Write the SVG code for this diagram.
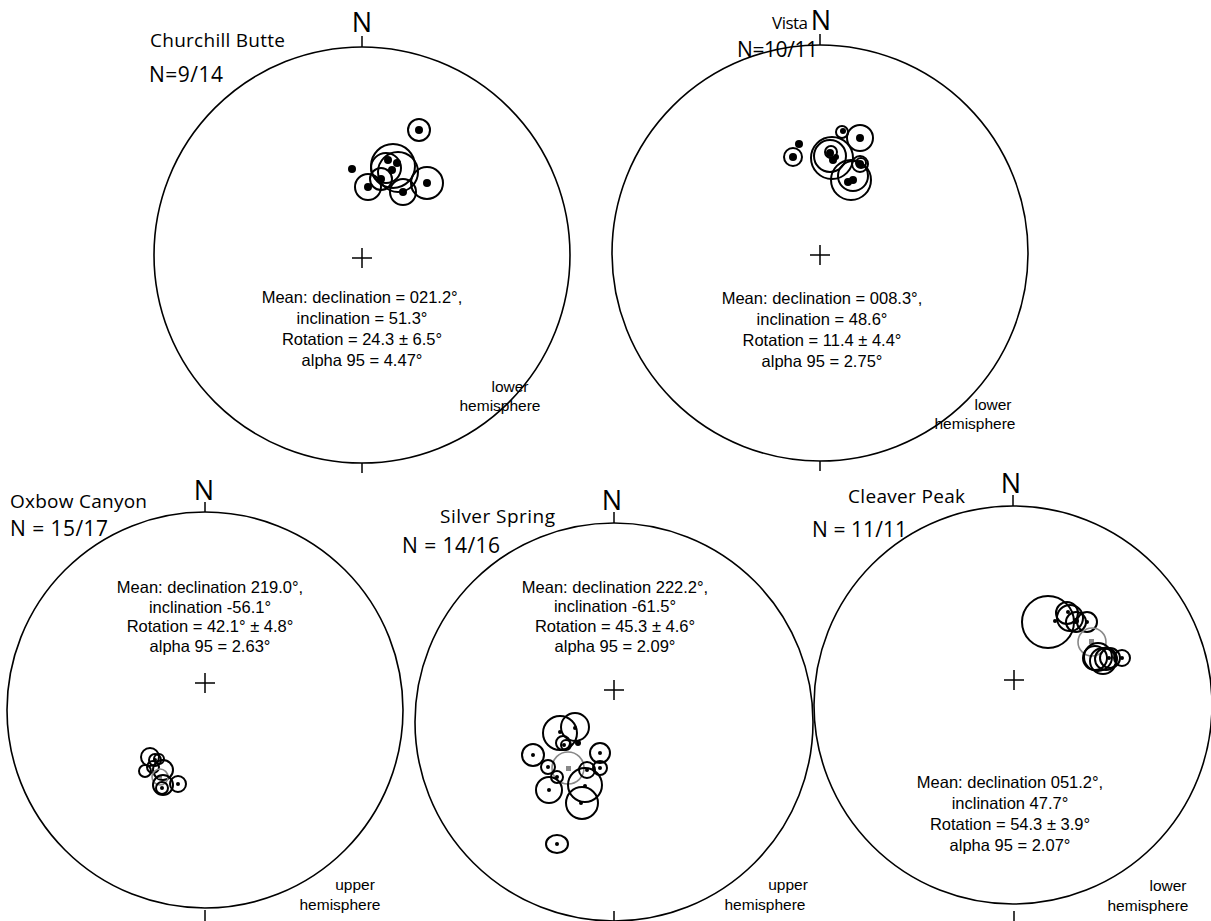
<svg xmlns="http://www.w3.org/2000/svg" width="1211" height="921" viewBox="0 0 1211 921">
<style>
.net{fill:none;stroke:#000;stroke-width:1.6}
.tick{stroke:#000;stroke-width:1.5}
.cross{stroke:#000;stroke-width:1.5}
.c{fill:none;stroke:#000;stroke-width:2}
.g{fill:none;stroke:#888;stroke-width:1.6}
.d{fill:#000}
.sq{fill:#888}
.title{font-family:"Open Sans","Noto Sans",sans-serif;font-size:19px;fill:#000}
.nn{font-family:"Open Sans","Noto Sans",sans-serif;font-size:21px;fill:#000}
.north{font-family:"Open Sans","Noto Sans",sans-serif;font-size:27px;fill:#000;text-anchor:middle}
.stat{font-family:"Liberation Sans",Arial,sans-serif;font-size:16.5px;fill:#000;text-anchor:middle}
.hemi{font-family:"Liberation Sans",Arial,sans-serif;font-size:15.5px;fill:#000;text-anchor:middle}
</style>
<rect width="1211" height="921" fill="#fff"/>

<g id="churchill-butte">
<circle class="net" cx="362" cy="255" r="208"/>
<line class="tick" x1="362" y1="36" x2="362" y2="47"/>
<line class="tick" x1="362" y1="463" x2="362" y2="473"/>
<path class="cross" d="M352 258H372M362 248V268"/>
<text class="north" x="362" y="32">N</text>
<text class="title" x="150" y="47" textLength="135">Churchill Butte</text>
<text class="nn" x="149" y="82" textLength="74">N=9/14</text>
<circle class="c" cx="419" cy="130" r="11"/><circle class="d" cx="419" cy="130" r="4"/>
<circle class="d" cx="352" cy="169" r="4"/>
<circle class="c" cx="393" cy="166" r="22"/>
<circle class="c" cx="398" cy="172" r="20"/>
<circle class="c" cx="386" cy="168" r="15"/>
<circle class="c" cx="381" cy="179" r="11"/>
<circle class="d" cx="388" cy="160" r="4"/><circle class="d" cx="397" cy="163" r="4"/><circle class="d" cx="392" cy="170" r="4"/><circle class="d" cx="381" cy="179" r="4"/>
<circle class="c" cx="368" cy="187" r="13"/><circle class="d" cx="368" cy="187" r="4"/>
<circle class="c" cx="403" cy="192" r="13"/><circle class="d" cx="403" cy="192" r="4"/>
<circle class="c" cx="427" cy="183" r="16"/><circle class="d" cx="427" cy="183" r="4"/>
<text class="stat" x="362" y="303">Mean: declination = 021.2°,</text>
<text class="stat" x="362" y="324">inclination = 51.3°</text>
<text class="stat" x="362" y="345">Rotation = 24.3 ± 6.5°</text>
<text class="stat" x="362" y="366">alpha 95 = 4.47°</text>
<text class="hemi" x="510" y="392">lower</text>
<text class="hemi" x="500" y="411">hemisphere</text>
</g>

<g id="vista">
<circle class="net" cx="820" cy="253" r="208"/>
<line class="tick" x1="820" y1="34" x2="820" y2="45"/>
<line class="tick" x1="820" y1="461" x2="820" y2="471"/>
<path class="cross" d="M810 255H830M820 245V265"/>
<text class="north" x="821" y="30">N</text>
<text class="title" x="772" y="29" style="font-size:17px" textLength="36">Vista</text>
<text class="nn" x="737" y="57" textLength="81">N=10/11</text>
<circle class="c" cx="842" cy="132" r="6"/><circle class="d" cx="843" cy="131" r="3"/>
<circle class="c" cx="860" cy="138" r="13"/><circle class="d" cx="860" cy="138" r="4"/>
<circle class="d" cx="799" cy="144" r="4"/>
<circle class="c" cx="793" cy="157" r="9"/><circle class="d" cx="793" cy="157" r="4"/>
<circle class="c" cx="832" cy="158" r="21"/>
<circle class="c" cx="830" cy="156" r="16"/>
<circle class="c" cx="831" cy="152" r="6"/>
<circle class="d" cx="830" cy="153" r="4"/><circle class="d" cx="833" cy="160" r="4"/><circle class="d" cx="836" cy="157" r="3"/>
<circle class="c" cx="860" cy="164" r="8"/><circle class="c" cx="861" cy="163" r="5"/><circle class="d" cx="860" cy="164" r="4"/>
<circle class="c" cx="851" cy="180" r="20"/>
<circle class="c" cx="853" cy="176" r="15"/>
<circle class="d" cx="848" cy="182" r="4"/><circle class="d" cx="853" cy="180" r="4"/>
<text class="stat" x="822" y="304">Mean: declination = 008.3°,</text>
<text class="stat" x="822" y="325">inclination = 48.6°</text>
<text class="stat" x="822" y="346">Rotation = 11.4 ± 4.4°</text>
<text class="stat" x="822" y="367">alpha 95 = 2.75°</text>
<text class="hemi" x="993" y="410">lower</text>
<text class="hemi" x="975" y="429">hemisphere</text>
</g>

<g id="oxbow-canyon">
<circle class="net" cx="205" cy="710" r="198"/>
<line class="tick" x1="205" y1="502" x2="205" y2="512"/>
<line class="tick" x1="205" y1="910" x2="205" y2="921"/>
<path class="cross" d="M195 683H215M205 673V693"/>
<text class="north" x="204" y="500">N</text>
<text class="title" x="10" y="508" textLength="137">Oxbow Canyon</text>
<text class="nn" x="10" y="536" textLength="98">N = 15/17</text>
<circle class="c" cx="150" cy="757" r="9"/>
<circle class="c" cx="155" cy="760" r="6"/><circle class="d" cx="155" cy="760" r="2"/>
<circle class="c" cx="159" cy="759" r="5"/>
<circle class="c" cx="145" cy="771" r="6"/>
<circle class="c" cx="153" cy="767" r="6"/>
<circle class="c" cx="163" cy="770" r="10"/>
<circle class="g" cx="160" cy="777" r="8"/><rect class="sq" x="158" y="775" width="4" height="4"/>
<circle class="c" cx="163" cy="785" r="10"/>
<circle class="c" cx="162" cy="788" r="6"/><circle class="d" cx="162" cy="788" r="2"/>
<circle class="c" cx="178" cy="784" r="8"/><circle class="d" cx="178" cy="784" r="2"/>
<text class="stat" x="210" y="593">Mean: declination 219.0°,</text>
<text class="stat" x="210" y="613">inclination -56.1°</text>
<text class="stat" x="210" y="632">Rotation = 42.1° ± 4.8°</text>
<text class="stat" x="210" y="652">alpha 95 = 2.63°</text>
<text class="hemi" x="355" y="890">upper</text>
<text class="hemi" x="340" y="910">hemisphere</text>
</g>

<g id="silver-spring">
<circle class="net" cx="614" cy="722" r="199"/>
<line class="tick" x1="614" y1="512" x2="614" y2="523"/>
<line class="tick" x1="614" y1="911" x2="614" y2="921"/>
<path class="cross" d="M604 690H624M614 680V700"/>
<text class="north" x="612" y="510">N</text>
<text class="title" x="440" y="523" textLength="115">Silver Spring</text>
<text class="nn" x="402" y="553" textLength="98">N = 14/16</text>
<circle class="c" cx="560" cy="733" r="17"/><circle class="d" cx="560" cy="732" r="2"/>
<circle class="c" cx="575" cy="727" r="14"/><circle class="d" cx="575" cy="728" r="2"/>
<circle class="c" cx="563" cy="743" r="7"/><circle class="c" cx="566" cy="745" r="5"/>
<circle class="d" cx="564" cy="745" r="2"/><circle class="d" cx="578" cy="743" r="3"/>
<circle class="c" cx="533" cy="755" r="11"/><circle class="d" cx="533" cy="755" r="2"/>
<circle class="c" cx="600" cy="753" r="10"/><circle class="d" cx="600" cy="753" r="2"/>
<circle class="g" cx="568" cy="768" r="16"/><rect class="sq" x="566" y="766" width="5" height="5"/>
<circle class="c" cx="548" cy="767" r="7"/><circle class="d" cx="548" cy="767" r="2"/>
<circle class="c" cx="557" cy="777" r="6"/><circle class="d" cx="557" cy="777" r="2"/>
<circle class="c" cx="587" cy="770" r="8"/><circle class="d" cx="587" cy="770" r="2"/>
<circle class="c" cx="600" cy="768" r="7"/><circle class="d" cx="600" cy="768" r="2"/>
<circle class="c" cx="585" cy="785" r="17"/><circle class="d" cx="585" cy="786" r="2"/>
<circle class="c" cx="549" cy="790" r="13"/><circle class="d" cx="549" cy="790" r="2"/>
<circle class="c" cx="582" cy="803" r="16"/><circle class="d" cx="581" cy="803" r="2"/>
<ellipse class="c" cx="557" cy="844" rx="11" ry="9"/><circle class="d" cx="557" cy="844" r="2"/>
<text class="stat" x="615" y="593">Mean: declination 222.2°,</text>
<text class="stat" x="615" y="612">inclination -61.5°</text>
<text class="stat" x="615" y="632">Rotation = 45.3 ± 4.6°</text>
<text class="stat" x="615" y="652">alpha 95 = 2.09°</text>
<text class="hemi" x="788" y="890">upper</text>
<text class="hemi" x="765" y="910">hemisphere</text>
</g>

<g id="cleaver-peak">
<circle class="net" cx="1013" cy="705" r="199"/>
<line class="tick" x1="1013" y1="495" x2="1013" y2="506"/>
<line class="tick" x1="1014" y1="911" x2="1014" y2="921"/>
<path class="cross" d="M1004 680H1024M1014 670V690"/>
<text class="north" x="1011" y="493">N</text>
<text class="title" x="848" y="503" textLength="117">Cleaver Peak</text>
<text class="nn" x="812" y="537" textLength="95">N = 11/11</text>
<circle class="c" cx="1048" cy="622" r="26"/><circle class="d" cx="1055" cy="621" r="2"/>
<circle class="c" cx="1067" cy="613" r="11"/>
<circle class="c" cx="1070" cy="618" r="13"/><circle class="d" cx="1068" cy="612" r="2"/>
<circle class="c" cx="1076" cy="622" r="10"/><circle class="d" cx="1076" cy="621" r="3"/>
<circle class="c" cx="1087" cy="622" r="10"/><circle class="d" cx="1087" cy="622" r="2"/>
<circle class="g" cx="1092" cy="642" r="14"/><rect class="sq" x="1089" y="639" width="5" height="5"/>
<circle class="c" cx="1098" cy="657" r="14"/>
<circle class="c" cx="1095" cy="658" r="12"/>
<circle class="c" cx="1103" cy="661" r="13"/>
<circle class="c" cx="1106" cy="659" r="11"/>
<circle class="c" cx="1110" cy="658" r="10"/><circle class="d" cx="1109" cy="658" r="2"/>
<circle class="c" cx="1122" cy="658" r="8"/><circle class="d" cx="1122" cy="658" r="2"/>
<text class="stat" x="1010" y="788">Mean: declination 051.2°,</text>
<text class="stat" x="1010" y="809">inclination 47.7°</text>
<text class="stat" x="1010" y="830">Rotation = 54.3 ± 3.9°</text>
<text class="stat" x="1010" y="851">alpha 95 = 2.07°</text>
<text class="hemi" x="1168" y="891">lower</text>
<text class="hemi" x="1148" y="911">hemisphere</text>
</g>
</svg>
